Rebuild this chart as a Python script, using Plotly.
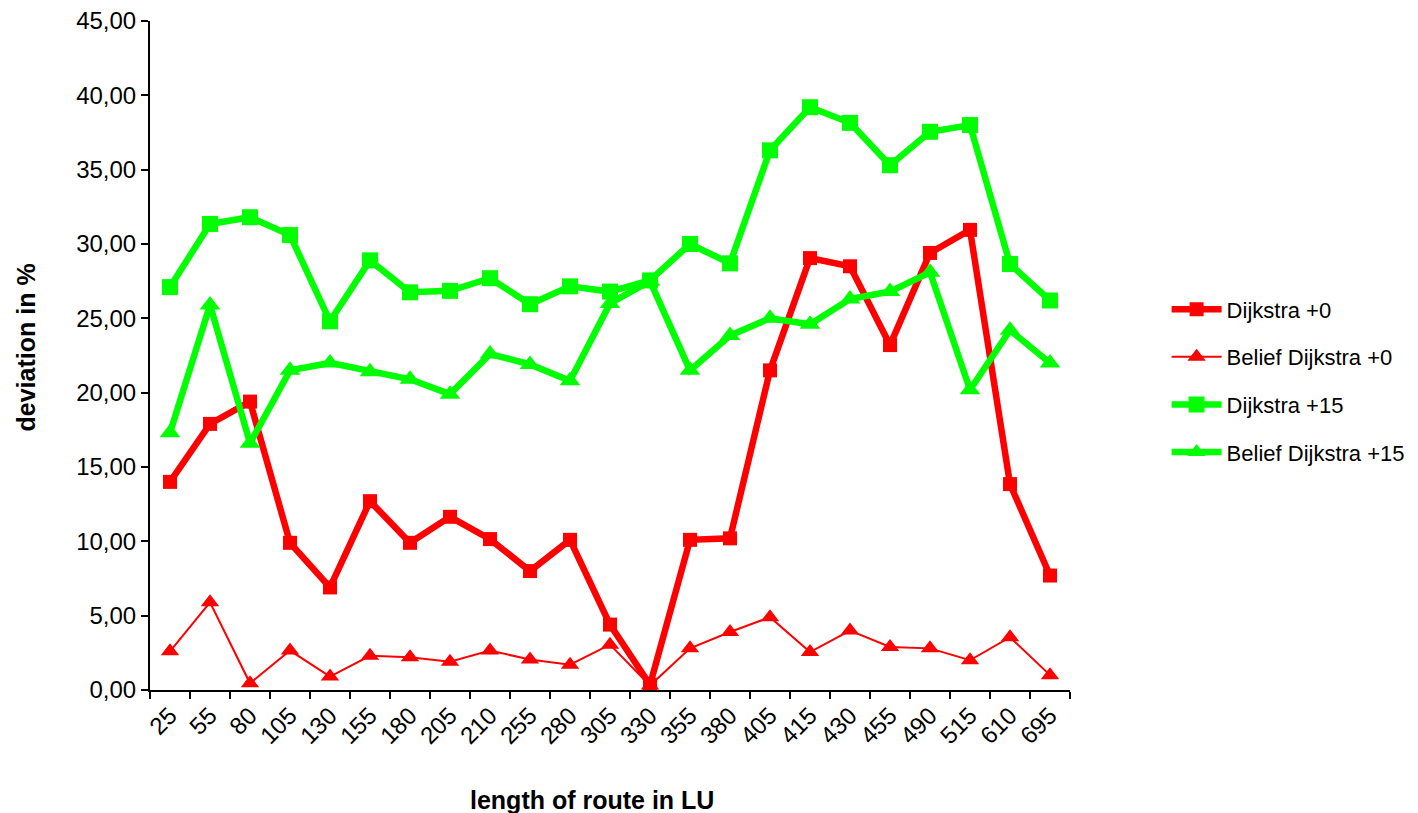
import plotly.graph_objects as go

categories = ["25", "55", "80", "105", "130", "155", "180", "205", "210", "255", "280", "305",
              "330", "355", "380", "405", "415", "430", "455", "490", "515", "610", "695"]

dijkstra_0 = [14.0, 17.9, 19.4, 9.9, 6.9, 12.7, 9.9, 11.65, 10.15, 8.0, 10.1, 4.4,
              0.35, 10.1, 10.2, 21.5, 29.05, 28.5, 23.2, 29.4, 30.95, 13.85, 7.7]
belief_0 = [2.6, 5.9, 0.45, 2.65, 0.9, 2.3, 2.2, 1.9, 2.65, 2.05, 1.7, 3.05,
            0.3, 2.8, 3.9, 4.9, 2.55, 4.0, 2.9, 2.8, 2.0, 3.55, 1.0]
dijkstra_15 = [27.1, 31.35, 31.8, 30.6, 24.8, 28.9, 26.75, 26.85, 27.7, 25.95, 27.15, 26.8,
               27.55, 30.0, 28.7, 36.3, 39.2, 38.15, 35.3, 37.55, 38.0, 28.65, 26.2]
belief_15 = [17.3, 25.9, 16.6, 21.5, 22.0, 21.4, 20.9, 19.9, 22.6, 21.9, 20.8, 26.0,
             27.5, 21.5, 23.85, 25.0, 24.6, 26.3, 26.8, 28.1, 20.2, 24.2, 22.0]

RED = "#ff0000"
GREEN = "#00ff00"
FONT = "Liberation Sans, Arial, sans-serif"

fig = go.Figure()
fig.add_trace(go.Scatter(x=categories, y=dijkstra_0, name="Dijkstra +0", mode="lines+markers",
                         line=dict(color=RED, width=6.5), legendgroup="a",
                         marker=dict(symbol="square", size=14, color=RED)))
fig.add_trace(go.Scatter(x=categories, y=belief_0, name="Belief Dijkstra +0", mode="lines+markers",
                         line=dict(color=RED, width=2), legendgroup="b",
                         marker=dict(symbol="triangle-up", size=16, color=RED)))
fig.add_trace(go.Scatter(x=categories, y=dijkstra_15, name="Dijkstra +15", mode="lines+markers",
                         line=dict(color=GREEN, width=6.5), legendgroup="c",
                         marker=dict(symbol="square", size=16, color=GREEN)))
fig.add_trace(go.Scatter(x=categories, y=belief_15, name="Belief Dijkstra +15", mode="lines+markers",
                         line=dict(color=GREEN, width=6.5), legendgroup="d",
                         marker=dict(symbol="triangle-up", size=18, color=GREEN)))

fig.update_layout(
    width=1418, height=813,
    margin=dict(l=142, r=356, t=13, b=131),
    plot_bgcolor="white", paper_bgcolor="white",
    font=dict(family=FONT, size=24, color="black"),
    separators=",.",
    showlegend=True,
    legend=dict(x=1.105, y=0.462, xanchor="left", yanchor="middle",
                font=dict(size=22), tracegroupgap=16, itemwidth=50,
                bgcolor="rgba(0,0,0,0)"),
    xaxis=dict(type="category", showline=True, linecolor="black", linewidth=2,
               ticks="outside", tickson="boundaries", ticklen=7, tickwidth=2, tickcolor="black",
               tickangle=-45, showgrid=False, zeroline=False, automargin=False,
               ticklabeloverflow="allow",
               range=[-0.5, len(categories) - 0.5]),
    yaxis=dict(range=[0, 45], dtick=5, tickformat=".2f", showline=True, linecolor="black",
               linewidth=2, ticks="outside", ticklen=7, tickwidth=2, tickcolor="black",
               showgrid=False, zeroline=False, automargin=False,
               ticklabeloverflow="allow"),
    annotations=[
        dict(text="<b>length of route in LU</b>", xref="paper", yref="paper",
             x=0.4804, y=-0.164, xanchor="center", yanchor="middle",
             showarrow=False, font=dict(size=25)),
        dict(text="<b>deviation in %</b>", xref="paper", yref="paper",
             x=-0.1348, y=0.512, xanchor="center", yanchor="middle", textangle=-90,
             showarrow=False, font=dict(size=25)),
    ],
)

fig.write_html("out.html")
